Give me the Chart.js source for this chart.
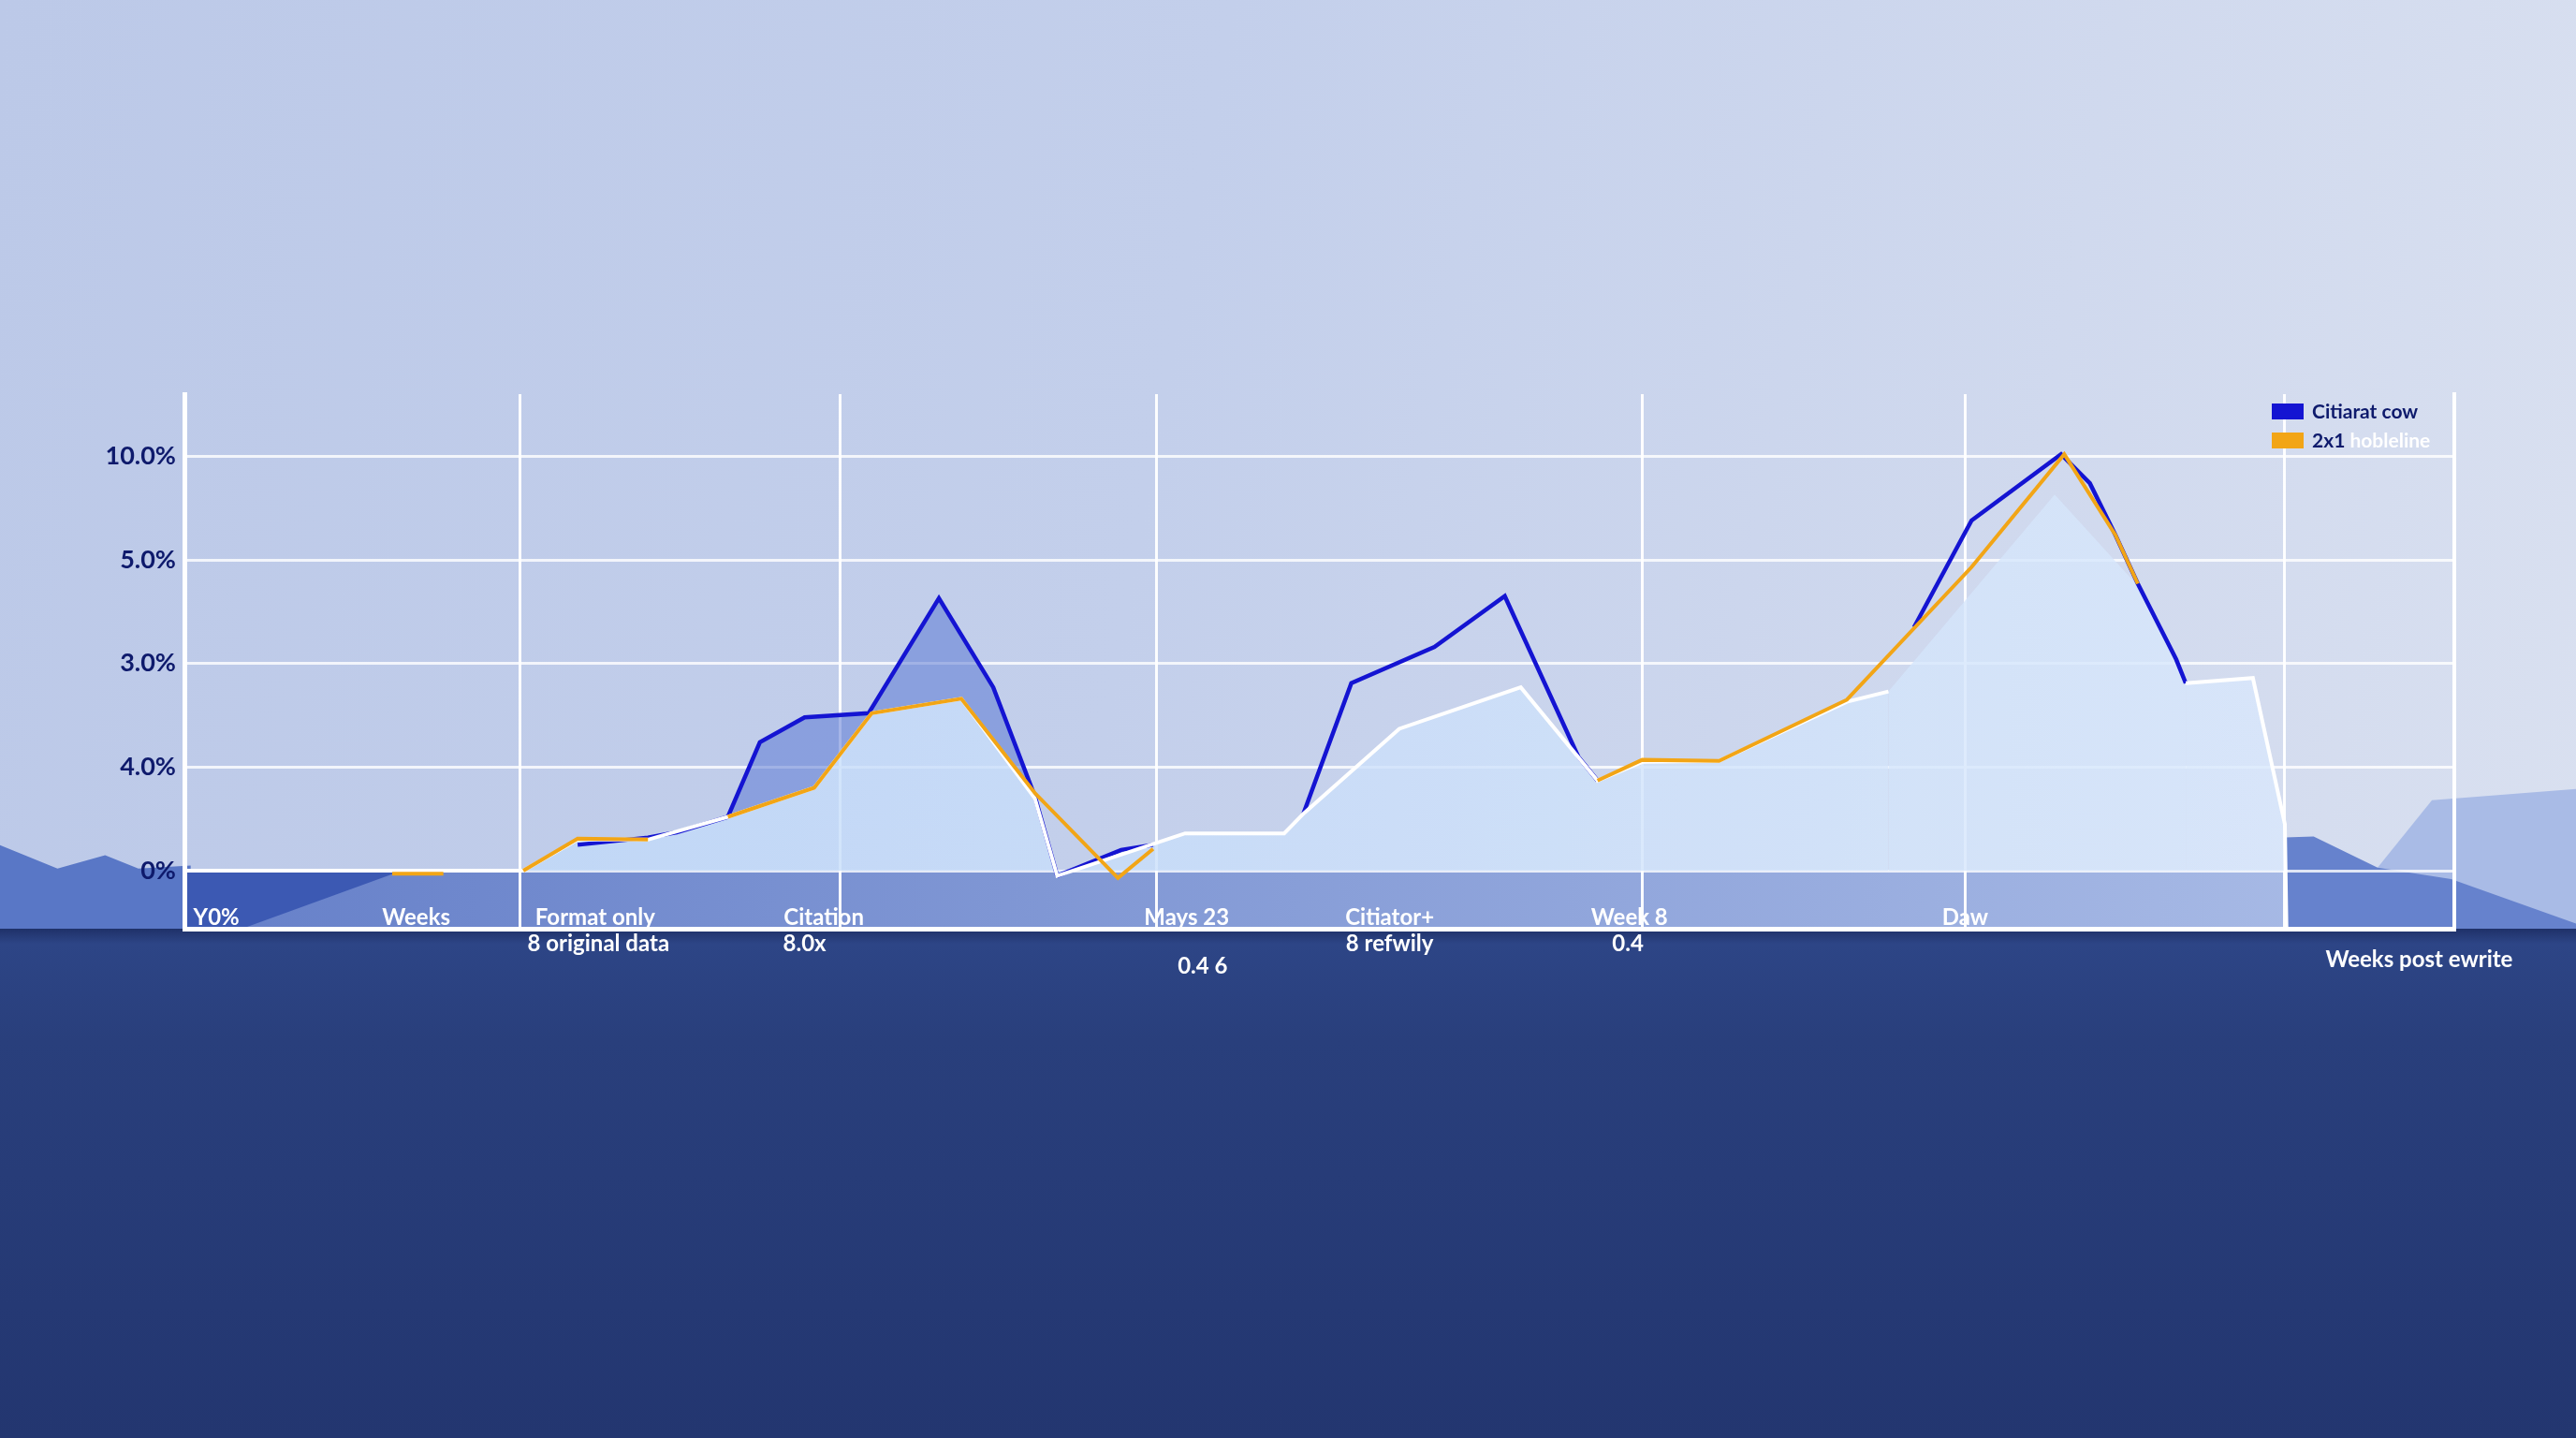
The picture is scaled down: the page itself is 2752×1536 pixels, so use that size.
<!DOCTYPE html>
<html>
<head>
<meta charset="utf-8">
<title>Citation weeks chart</title>
<script src="https://cdn.jsdelivr.net/npm/chart.js@4.4.1/dist/chart.umd.min.js"></script>
<style>
  html, body { margin: 0; padding: 0; width: 2752px; height: 1536px; overflow: hidden; }
  #sky { position: absolute; left: 0; top: 0; width: 2752px; height: 992px;
    background: linear-gradient(100deg, #bcc9e8 0%, #c3cfeb 45%, #d9e0f0 100%); }
  #sea { position: absolute; left: 0; top: 992px; width: 2752px; height: 544px;
    background: linear-gradient(180deg, #1f3169 0px, #2d4586 16px, #293f7c 120px, #233670 100%); }
  canvas { position: absolute; left: 0; top: 0; }
</style>
</head>
<body>
<div id="sky"></div>
<div id="sea"></div>
<canvas id="backdrop" width="2752" height="1536"></canvas>
<canvas id="mainChart" width="2752" height="1536"></canvas>
<script>
// y rows are evenly spaced, labelled bottom to top as printed
var yTickLabels = ['0%', '4.0%', '3.0%', '5.0%', '10.0%'];
var weekGridlines = [10.5, 20.5, 30.4, 45.6, 55.7, 65.7];

var weekLabels = ['Y0%', 'Weeks', 'Format only', 'Citation', 'Mays 23', 'Citiator+', 'Week 8', 'Daw'];
var weekLabelPos = [1.0, 7.25, 12.85, 20.0, 31.35, 37.7, 45.2, 55.7];
var subLabels = ['8 original data', '8.0x', '8 refwily', '0.4'];
var subLabelPos = [12.95, 19.4, 37.7, 45.15];
var lowLabels = ['0.4 6'];
var lowLabelPos = [31.85];
var xTitle = 'Weeks post ewrite';
var xTitlePos = 69.9;

var seriesNames = ['Citiarat cow', '2x1 hobleline'];

// blue series
var citationWeeks = [12.3, 14.5, 15.4, 17.0, 18.0, 19.4, 21.4, 23.6, 25.3, 26.6, 27.3, 29.3, 30.3, 32.5,
  35.0, 36.5, 39.1, 41.3, 43.6, 44.2, 48.0, 54.1, 55.9, 58.7, 59.6, 60.4, 61.1, 62.3, 62.6];
var citationValues = [0.25, 0.32, 0.37, 0.52, 1.24, 1.48, 1.52, 2.63, 1.77, 0.72, -0.05, 0.20, 0.25, null,
  0.55, 1.81, 2.16, 2.65, 1.10, 0.87, null, 2.35, 3.38, 4.02, 3.74, 3.24, 2.77, 2.04, 1.81];

// orange series
var baselineWeeks = [6.5, 8.1, 9.3, 10.6, 12.3, 14.5, 15.7, 17.0, 19.7, 21.5, 24.3, 26.6, 29.2, 30.3, 37.0,
  44.2, 45.6, 48.0, 52.0, 55.9, 58.8, 60.4, 61.1];
var baselineValues = [-0.03, -0.03, null, 0, 0.31, 0.30, null, 0.52, 0.80, 1.52, 1.66, 0.75, -0.07, 0.21, null,
  0.87, 1.07, 1.06, 1.65, 2.93, 4.02, 3.24, 2.77];

// white line with the pale area under it
var lightWeeks = [0, 10.6, 12.3, 14.5, 17.0, 19.7, 21.5, 24.3, 26.6, 27.3, 31.3, 34.4, 35.0, 38.0, 41.8,
  44.2, 45.6, 48.0, 52.0, 53.3, 58.5, 61.1, 62.6, 64.7, 65.7, 65.75];
var lightValues = [0, 0, 0.30, 0.30, 0.52, 0.80, 1.52, 1.66, 0.70, -0.05, 0.36, 0.36, 0.55, 1.37, 1.77,
  0.87, 1.05, 1.06, 1.63, 1.73, 3.63, 2.75, 1.81, 1.86, 0.45, -0.56];

// backdrop terrain, same units as the chart
var floorWeeks = [0, 71];
var floorValues = [0, 0];
var shadowWeeks = [0, 1.8, 6.8];
var shadowValues = [-0.56, -0.56, 0];
var ridgeLeftWeeks = [-5.8, -3.97, -2.48, -1.44, 0.2];
var ridgeLeftValues = [0.25, 0.02, 0.15, 0.02, 0.05];
var ridgeFarWeeks = [68.6, 70.3, 74.9];
var ridgeFarValues = [0.03, 0.68, 0.79];
var ridgeNearWeeks = [65.7, 66.6, 68.6, 70.9, 74.9];
var ridgeNearValues = [0.32, 0.33, 0.03, -0.08, -0.52];

var citationColor = '#1414d2';
var baselineColor = '#f2a516';
var bandColor = 'rgba(92, 122, 212, 0.55)';
var navy = '#0e1a6c';
var font = '"Liberation Sans Narrow", "Arial Narrow", Lato, sans-serif';

function points(weeks, values) {
  return weeks.map(function (w, i) { return {x: w, y: values[i]}; });
}

// pale area goes from sky blue on the left to almost white on the right
function paleGradient(c) {
  var ch = c.chart;
  if (!ch.chartArea) return 'rgba(200,222,250,0.78)';
  var xs = ch.scales.x;
  var g = ch.ctx.createLinearGradient(xs.getPixelForValue(0), 0, xs.getPixelForValue(66), 0);
  g.addColorStop(0, 'rgba(190,216,248,0.78)');
  g.addColorStop(0.45, 'rgba(200,222,250,0.78)');
  g.addColorStop(1, 'rgba(217,232,252,0.78)');
  return g;
}

var legendPlugin = {
  id: 'cornerLegend',
  afterDraw: function (chart) {
    var ctx = chart.ctx, area = chart.chartArea;
    var bx = area.right - 195, by = area.top + 10;
    ctx.save();
    ctx.font = 'bold 21px ' + font;
    ctx.textBaseline = 'middle';
    ctx.textAlign = 'left';
    ctx.fillStyle = citationColor;
    ctx.fillRect(bx, by, 34, 17);
    ctx.fillStyle = baselineColor;
    ctx.fillRect(bx, by + 31, 34, 17);
    ctx.fillStyle = navy;
    ctx.fillText(seriesNames[0], bx + 43, by + 9);
    var parts = seriesNames[1].split(' ');
    var first = parts.shift() + ' ';
    ctx.fillText(first, bx + 43, by + 40);
    ctx.fillStyle = '#ffffff';
    ctx.fillText(parts.join(' '), bx + 43 + ctx.measureText(first).width, by + 40);
    ctx.restore();
  }
};

var labelPlugin = {
  id: 'weekLabels',
  afterDraw: function (chart) {
    var ctx = chart.ctx, xs = chart.scales.x, area = chart.chartArea;
    ctx.save();
    ctx.fillStyle = '#ffffff';
    ctx.textAlign = 'center';
    ctx.textBaseline = 'middle';
    ctx.font = 'bold 24px ' + font;
    weekLabels.forEach(function (t, i) {
      ctx.fillText(t, xs.getPixelForValue(weekLabelPos[i]), area.bottom - 12);
    });
    subLabels.forEach(function (t, i) {
      ctx.fillText(t, xs.getPixelForValue(subLabelPos[i]), area.bottom + 16);
    });
    lowLabels.forEach(function (t, i) {
      ctx.fillText(t, xs.getPixelForValue(lowLabelPos[i]), area.bottom + 40);
    });
    ctx.fillText(xTitle, xs.getPixelForValue(xTitlePos), area.bottom + 33);
    ctx.restore();
  }
};

var fontSpec = {family: font, size: 27, weight: 'bold'};

// datasets listed top-most first
var mainChart = new Chart(document.getElementById('mainChart'), {
  type: 'line',
  data: {
    datasets: [{
      label: seriesNames[1],
      data: points(baselineWeeks, baselineValues),
      borderColor: baselineColor,
      borderWidth: 4,
      fill: false
    }, {
      label: 'pale',
      data: points(lightWeeks, lightValues),
      borderColor: '#ffffff',
      borderWidth: 4,
      backgroundColor: paleGradient,
      fill: 'origin',
      segment: {
        borderColor: function (c) {
          return (c.p0.parsed.x >= 53.3 && c.p1.parsed.x <= 62.6) ? 'rgba(0,0,0,0)' : '#ffffff';
        }
      }
    }, {
      label: seriesNames[0],
      data: points(citationWeeks, citationValues),
      borderColor: citationColor,
      borderWidth: 4.5,
      fill: 1,
      backgroundColor: 'rgba(0,0,0,0)',
      segment: {
        backgroundColor: function (c) {
          return (c.p0.parsed.x >= 17 && c.p1.parsed.x <= 27.3) ? bandColor : 'rgba(0,0,0,0)';
        }
      }
    }]
  },
  options: {
    responsive: false,
    animation: false,
    layout: {padding: {top: 421, right: 130, bottom: 544, left: 0}},
    elements: {point: {radius: 0}, line: {tension: 0}},
    plugins: {
      legend: {display: false},
      tooltip: {enabled: false},
      filler: {drawTime: 'beforeDatasetsDraw'}
    },
    scales: {
      x: {
        type: 'linear', min: 0, max: 71,
        afterBuildTicks: function (s) { s.ticks = weekGridlines.map(function (v) { return {value: v}; }); },
        afterFit: function (s) { s.height = 0; },
        ticks: {display: false},
        grid: {color: 'rgba(255,255,255,0.95)', lineWidth: 3, drawTicks: false},
        border: {color: '#ffffff', width: 5}
      },
      y: {
        min: -0.56, max: 4.6,
        afterBuildTicks: function (s) { s.ticks = [0, 1, 2, 3, 4].map(function (v) { return {value: v}; }); },
        afterFit: function (s) { s.width = 197; },
        ticks: {color: navy, font: fontSpec, padding: 9, callback: function (v) { return yTickLabels[v]; }},
        grid: {color: 'rgba(255,255,255,0.8)', lineWidth: 3, drawTicks: false},
        border: {color: '#ffffff', width: 5}
      },
      y2: {
        position: 'right', display: true, min: -0.56, max: 4.6,
        afterFit: function (s) { s.width = 0; },
        ticks: {display: false},
        grid: {display: false, drawTicks: false},
        border: {color: '#ffffff', width: 4}
      }
    }
  },
  plugins: [legendPlugin, labelPlugin]
});

var mx = mainChart.scales.x, my = mainChart.scales.y;

function floorGradient(c) {
  var ch = c.chart;
  if (!ch.chartArea) return null;
  var g = ch.ctx.createLinearGradient(ch.scales.x.getPixelForValue(0), 0, ch.scales.x.getPixelForValue(71), 0);
  g.addColorStop(0, '#6680c9');
  g.addColorStop(1, '#abbde7');
  return g;
}

// backdrop, listed top-most first
new Chart(document.getElementById('backdrop'), {
  type: 'line',
  data: {
    datasets: [
      {data: points(ridgeNearWeeks, ridgeNearValues), backgroundColor: '#6682cd', fill: {value: -0.56}},
      {data: points(ridgeFarWeeks, ridgeFarValues), backgroundColor: '#a9bbe6', fill: {value: -0.56}},
      {data: points(shadowWeeks, shadowValues), backgroundColor: '#3c59b3', fill: {value: 0}},
      {data: points(ridgeLeftWeeks, ridgeLeftValues), backgroundColor: '#5977c6', fill: {value: -0.56}},
      {data: points(floorWeeks, floorValues), backgroundColor: floorGradient, fill: {value: -0.56}}
    ]
  },
  options: {
    responsive: false,
    animation: false,
    layout: {padding: 0},
    elements: {point: {radius: 0}, line: {tension: 0, borderWidth: 0}},
    plugins: {legend: {display: false}, tooltip: {enabled: false}},
    scales: {
      x: {type: 'linear', display: false, min: mx.getValueForPixel(0), max: mx.getValueForPixel(2752)},
      y: {display: false, min: my.getValueForPixel(1536), max: my.getValueForPixel(0)}
    }
  }
});
</script>
</body>
</html>
